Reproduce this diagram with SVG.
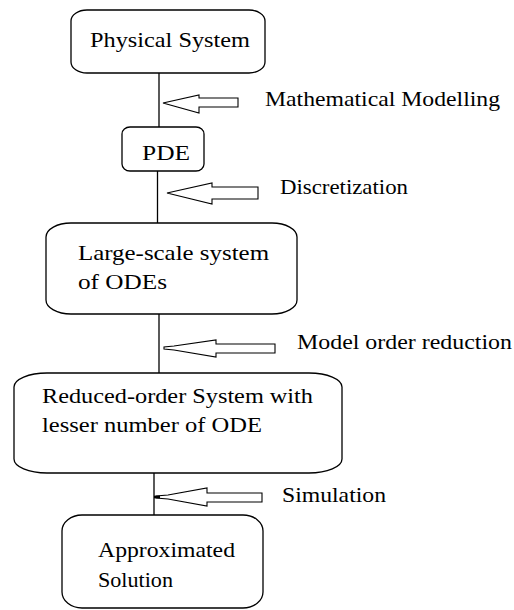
<svg xmlns="http://www.w3.org/2000/svg" width="514" height="610" viewBox="0 0 514 610">
<style>
.box{fill:#fff;stroke:#000;stroke-width:1.3}
.arr{fill:#fff;stroke:#000;stroke-width:1.1;stroke-linejoin:miter}
.ln{stroke:#000;stroke-width:1.3;fill:none}
</style>
<rect width="514" height="610" fill="#fff"/>
<g id="connectors">
<line class="ln" x1="159" y1="73" x2="159" y2="127"/>
<line class="ln" x1="157.5" y1="171" x2="157.5" y2="223"/>
<line class="ln" x1="159" y1="314" x2="159" y2="373"/>
<line class="ln" x1="154" y1="473" x2="154" y2="515"/>
</g>
<g font-family="Liberation Serif, Times New Roman, Tinos, Noto Serif, DejaVu Serif, serif" font-size="22" fill="#000">
<g id="arrow-modelling">
<polygon class="arr" points="238,98 199,98 199,95 163,103 199,113 199,107 238,107"/>
<text x="265" y="106" textLength="235" lengthAdjust="spacingAndGlyphs">Mathematical Modelling</text>
</g>
<g id="arrow-discretization">
<polygon class="arr" points="258,187 212,187 212,183 167,193 212,204 212,199 258,199"/>
<text x="280" y="194" textLength="128" lengthAdjust="spacingAndGlyphs">Discretization</text>
</g>
<g id="arrow-mor">
<polygon class="arr" points="275,344 216,344 216,340 174,346 164,347 164,349 174,350 216,357 216,353 275,353"/>
<text x="297" y="349" textLength="215" lengthAdjust="spacingAndGlyphs">Model order reduction</text>
</g>
<g id="arrow-simulation">
<polygon class="arr" points="262,493 207,493 207,488 168,495 156,496 156,498 168,499 207,506 207,502 262,502"/>
<line x1="154" y1="497" x2="160" y2="497" stroke="#000" stroke-width="2.5"/>
<text x="282" y="502" textLength="104" lengthAdjust="spacingAndGlyphs">Simulation</text>
</g>
<g id="physical-system">
<rect class="box" x="71" y="10" width="194" height="63" rx="16" ry="11"/>
<text x="90" y="47" textLength="160" lengthAdjust="spacingAndGlyphs">Physical System</text>
</g>
<g id="pde">
<rect class="box" x="122" y="127" width="82" height="44" rx="8" ry="7"/>
<text x="142" y="160" textLength="48" lengthAdjust="spacingAndGlyphs">PDE</text>
</g>
<g id="large-scale">
<rect class="box" x="46" y="223" width="251" height="91" rx="25" ry="14"/>
<text x="78" y="260" textLength="191" lengthAdjust="spacingAndGlyphs">Large-scale system</text>
<text x="78" y="289" textLength="89" lengthAdjust="spacingAndGlyphs">of ODEs</text>
</g>
<g id="reduced-order">
<rect class="box" x="14" y="373" width="328" height="100" rx="33" ry="14"/>
<text x="42" y="403" textLength="271" lengthAdjust="spacingAndGlyphs">Reduced-order System with</text>
<text x="42" y="432" textLength="220" lengthAdjust="spacingAndGlyphs">lesser number of ODE</text>
</g>
<g id="approximated">
<rect class="box" x="62" y="515" width="201" height="93" rx="20" ry="16"/>
<text x="98" y="557" textLength="137" lengthAdjust="spacingAndGlyphs">Approximated</text>
<text x="98" y="587" textLength="75" lengthAdjust="spacingAndGlyphs">Solution</text>
</g>
</g>
</svg>
